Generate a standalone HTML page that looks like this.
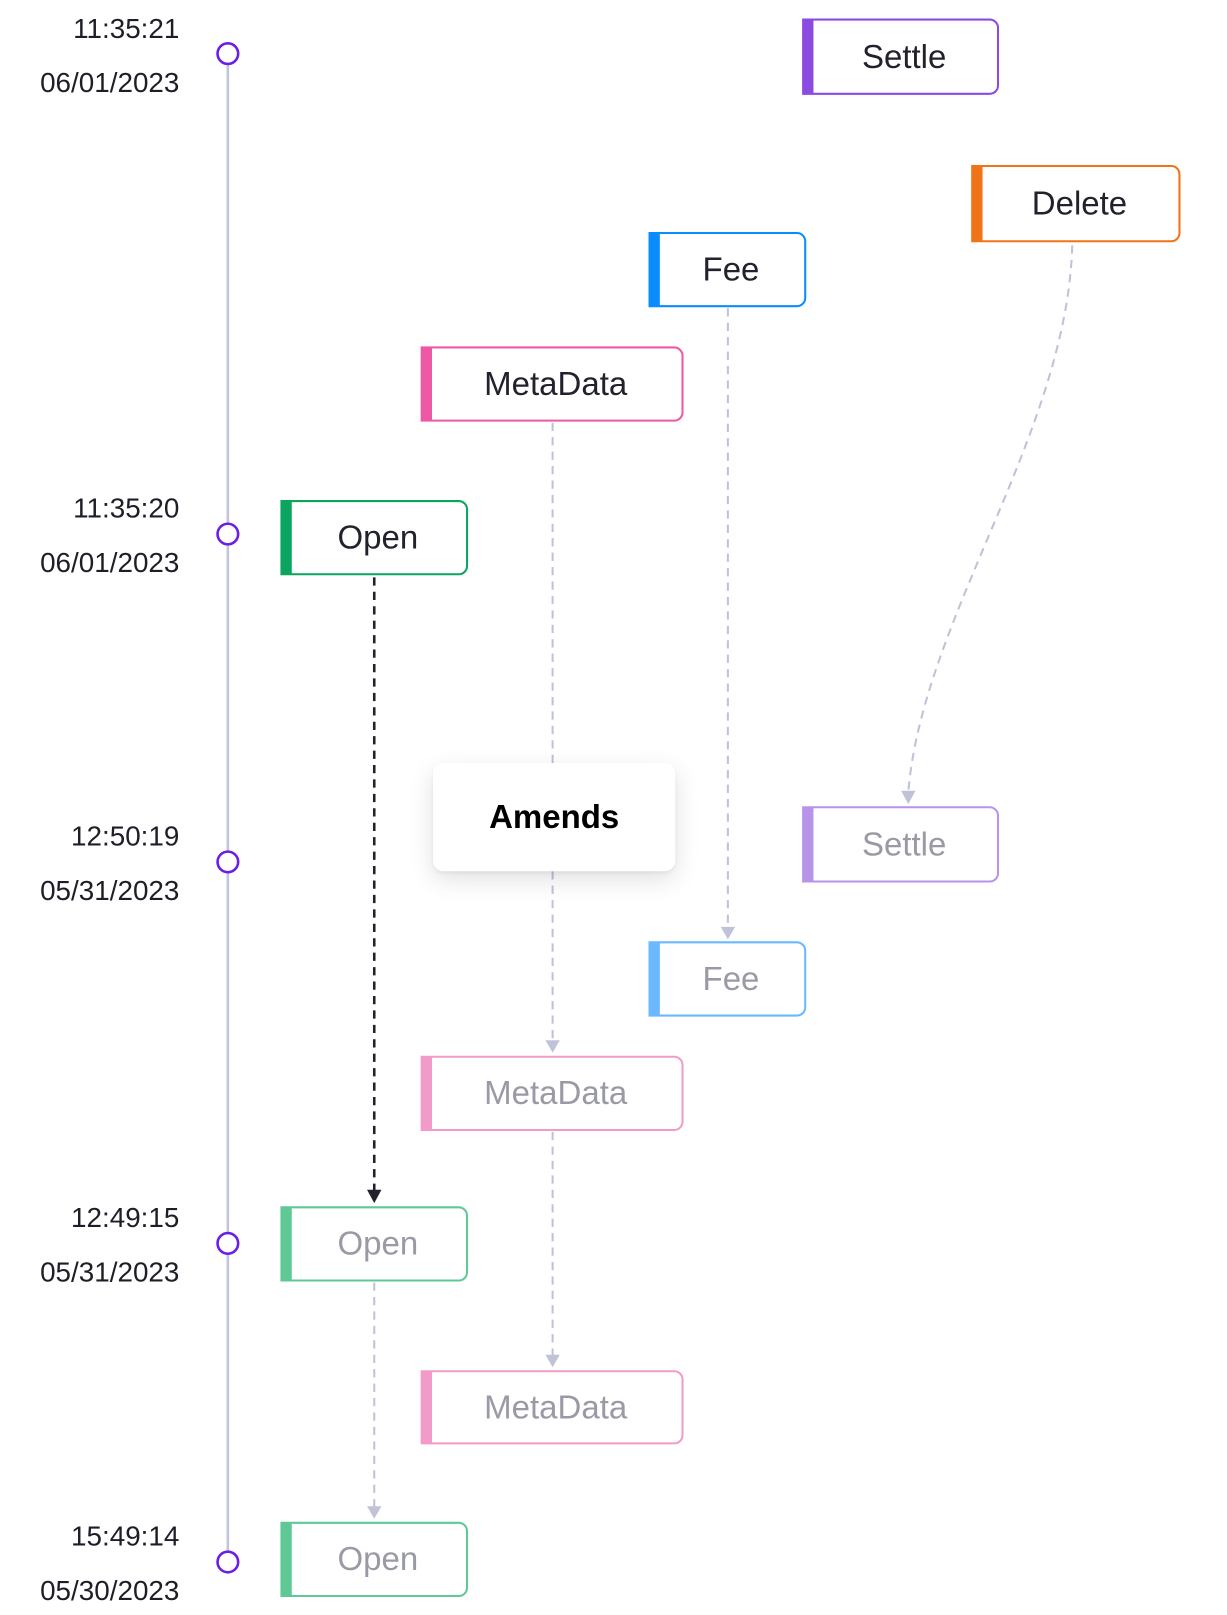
<!DOCTYPE html>
<html><head><meta charset="utf-8"><style>
html,body{margin:0;padding:0;background:#fff;width:1227px;height:1614px;overflow:hidden;font-family:"Liberation Sans",sans-serif}
#w{position:absolute;left:0;top:0;width:1190px;height:1566px;transform:scale(1.031);transform-origin:0 0}
.t{position:absolute;right:1016px;font-size:27px;color:#1e1e28;text-align:right;white-space:nowrap;line-height:30px}
.b{position:absolute;box-sizing:border-box;border:2px solid;border-left-width:11px;border-radius:0 9px 9px 0;background:#fff;display:flex;align-items:center;justify-content:center;font-size:32px;color:#22222e;padding-right:2px}
.f{color:#9a9aa6}
svg{position:absolute;left:0;top:0}
</style></head><body><div id="w">
<svg width="1190" height="1566">
<defs>
<marker id="ag" markerWidth="10" markerHeight="10" refX="5" refY="8" orient="auto" markerUnits="userSpaceOnUse" viewBox="0 0 10 10"><path d="M0,0 L10,0 L5,10 z" fill="#c0c2d8" transform="rotate(-90 5 5)"/></marker>
</defs>
<line x1="221" y1="52" x2="221" y2="1515" stroke="#c2c4dc" stroke-width="2.5"/>
<g fill="#fff" stroke="#6a1ee8" stroke-width="2.5">
<circle cx="221" cy="52" r="10"/><circle cx="221" cy="518" r="10"/><circle cx="221" cy="836" r="10"/><circle cx="221" cy="1206" r="10"/><circle cx="221" cy="1515" r="10"/>
</g>
<g stroke="#c0c2d8" stroke-width="2" stroke-dasharray="8 6" fill="none">
<line x1="536" y1="410" x2="536" y2="740"/>
<line x1="536" y1="845" x2="536" y2="1010"/>
<line x1="536" y1="1098" x2="536" y2="1315"/>
<line x1="706" y1="299" x2="706" y2="900"/>
<line x1="363" y1="1244" x2="363" y2="1462"/>
<path d="M1040 238 C1035 420, 895 600, 881 768"/>
</g>
<line x1="363" y1="560" x2="363" y2="1155" stroke="#22222e" stroke-width="2.5" stroke-dasharray="8 6"/>
<g fill="#c0c2d8">
<path d="M529 1009 L543 1009 L536 1021 z"/>
<path d="M529 1314 L543 1314 L536 1326 z"/>
<path d="M699 899 L713 899 L706 911 z"/>
<path d="M356 1461 L370 1461 L363 1473 z"/>
<path d="M874 767 L888 767 L881 780 z"/>
</g>
<path d="M356 1154 L370 1154 L363 1167 z" fill="#22222e"/>
</svg>
<div class="t" style="top:13px">11:35:21</div><div class="t" style="top:65px">06/01/2023</div>
<div class="t" style="top:478px">11:35:20</div><div class="t" style="top:531px">06/01/2023</div>
<div class="t" style="top:796px">12:50:19</div><div class="t" style="top:849px">05/31/2023</div>
<div class="t" style="top:1166px">12:49:15</div><div class="t" style="top:1219px">05/31/2023</div>
<div class="t" style="top:1475px">15:49:14</div><div class="t" style="top:1528px">05/30/2023</div>

<div class="b" style="left:778px;top:18px;width:191px;height:74px;border-color:#8b4ae0">Settle</div>
<div class="b" style="left:942px;top:160px;width:203px;height:75px;border-color:#f07318">Delete</div>
<div class="b" style="left:629px;top:225px;width:153px;height:73px;border-color:#0a8cff">Fee</div>
<div class="b" style="left:408px;top:336px;width:255px;height:73px;border-color:#ec5aa5">MetaData</div>
<div class="b" style="left:272px;top:485px;width:182px;height:73px;border-color:#0ba560">Open</div>
<div class="b f" style="left:778px;top:782px;width:191px;height:74px;border-color:#b993ea">Settle</div>
<div class="b f" style="left:629px;top:913px;width:153px;height:73px;border-color:#6bb8ff">Fee</div>
<div class="b f" style="left:408px;top:1024px;width:255px;height:73px;border-color:#f29bc9">MetaData</div>
<div class="b f" style="left:272px;top:1170px;width:182px;height:73px;border-color:#5fc996">Open</div>
<div class="b f" style="left:408px;top:1329px;width:255px;height:72px;border-color:#f29bc9">MetaData</div>
<div class="b f" style="left:272px;top:1476px;width:182px;height:73px;border-color:#5fc996">Open</div>

<div style="position:absolute;left:420px;top:740px;width:235px;height:105px;background:#fff;border-radius:10px;box-shadow:0 8px 24px rgba(0,0,0,0.12),0 2px 4px rgba(0,0,0,0.06);display:flex;align-items:center;justify-content:center;font-size:32px;font-weight:bold;color:#000">Amends</div>
</div></body></html>
